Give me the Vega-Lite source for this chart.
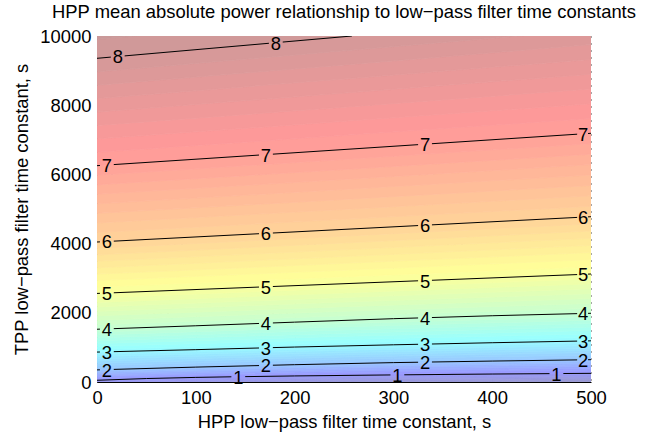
{
  "$schema": "https://vega.github.io/schema/vega-lite/v6.json",
  "autosize": {"type": "none"},
  "width": 494,
  "height": 346,
  "padding": {"left": 97, "top": 36, "right": 54, "bottom": 51},
  "background": "white",
  "title": {"text": "HPP mean absolute power relationship to low−pass filter time constants", "font": "Liberation Sans", "fontSize": 18.4, "fontWeight": "normal", "color": "black", "anchor": "middle", "offset": 6},
  "config": {
    "view": {"stroke": null},
    "font": "Liberation Sans",
    "axis": {
      "labelFont": "Liberation Sans", "labelFontSize": 18.4, "labelColor": "black",
      "titleFont": "Liberation Sans", "titleFontSize": 18.4, "titleFontWeight": "normal", "titleColor": "black",
      "domainColor": "black", "domainWidth": 1, "ticks": false,
      "grid": true, "gridColor": "#000000", "gridDash": [1, 6], "gridOpacity": 0.7, "gridWidth": 1,
      "labelFlush": false, "zindex": 1
    }
  },
  "datasets": {
    "bands": [
      {"v":0.1875,"x":0,"y":-195,"y2":-160},{"v":0.1875,"x":250,"y":-73,"y2":-35},{"v":0.1875,"x":500,"y":-13,"y2":25},
      {"v":0.3125,"x":0,"y":-160,"y2":-125},{"v":0.3125,"x":250,"y":-35,"y2":3},{"v":0.3125,"x":500,"y":25,"y2":63},
      {"v":0.4375,"x":0,"y":-125,"y2":-90},{"v":0.4375,"x":250,"y":3,"y2":40},{"v":0.4375,"x":500,"y":63,"y2":100},
      {"v":0.5625,"x":0,"y":-90,"y2":-55},{"v":0.5625,"x":250,"y":40,"y2":78},{"v":0.5625,"x":500,"y":100,"y2":138},
      {"v":0.6875,"x":0,"y":-55,"y2":-20},{"v":0.6875,"x":250,"y":78,"y2":115},{"v":0.6875,"x":500,"y":138,"y2":175},
      {"v":0.8125,"x":0,"y":-20,"y2":15},{"v":0.8125,"x":250,"y":115,"y2":153},{"v":0.8125,"x":500,"y":175,"y2":213},
      {"v":0.9375,"x":0,"y":15,"y2":50},{"v":0.9375,"x":250,"y":153,"y2":190},{"v":0.9375,"x":500,"y":213,"y2":250},
      {"v":1.0625,"x":0,"y":50,"y2":88},{"v":1.0625,"x":250,"y":190,"y2":233},{"v":1.0625,"x":500,"y":250,"y2":300},
      {"v":1.1875,"x":0,"y":88,"y2":125},{"v":1.1875,"x":250,"y":233,"y2":275},{"v":1.1875,"x":500,"y":300,"y2":349},
      {"v":1.3125,"x":0,"y":125,"y2":163},{"v":1.3125,"x":250,"y":275,"y2":318},{"v":1.3125,"x":500,"y":349,"y2":399},
      {"v":1.4375,"x":0,"y":163,"y2":200},{"v":1.4375,"x":250,"y":318,"y2":360},{"v":1.4375,"x":500,"y":399,"y2":448},
      {"v":1.5625,"x":0,"y":200,"y2":238},{"v":1.5625,"x":250,"y":360,"y2":403},{"v":1.5625,"x":500,"y":448,"y2":497},
      {"v":1.6875,"x":0,"y":238,"y2":275},{"v":1.6875,"x":250,"y":403,"y2":445},{"v":1.6875,"x":500,"y":497,"y2":546},
      {"v":1.8125,"x":0,"y":275,"y2":313},{"v":1.8125,"x":250,"y":445,"y2":488},{"v":1.8125,"x":500,"y":546,"y2":596},
      {"v":1.9375,"x":0,"y":313,"y2":350},{"v":1.9375,"x":250,"y":488,"y2":530},{"v":1.9375,"x":500,"y":596,"y2":645},
      {"v":2.0625,"x":0,"y":350,"y2":415},{"v":2.0625,"x":250,"y":530,"y2":594},{"v":2.0625,"x":500,"y":645,"y2":713},
      {"v":2.1875,"x":0,"y":415,"y2":479},{"v":2.1875,"x":250,"y":594,"y2":658},{"v":2.1875,"x":500,"y":713,"y2":781},
      {"v":2.3125,"x":0,"y":479,"y2":544},{"v":2.3125,"x":250,"y":658,"y2":722},{"v":2.3125,"x":500,"y":781,"y2":850},
      {"v":2.4375,"x":0,"y":544,"y2":608},{"v":2.4375,"x":250,"y":722,"y2":786},{"v":2.4375,"x":500,"y":850,"y2":918},
      {"v":2.5625,"x":0,"y":608,"y2":672},{"v":2.5625,"x":250,"y":786,"y2":851},{"v":2.5625,"x":500,"y":918,"y2":986},
      {"v":2.6875,"x":0,"y":672,"y2":736},{"v":2.6875,"x":250,"y":851,"y2":915},{"v":2.6875,"x":500,"y":986,"y2":1054},
      {"v":2.8125,"x":0,"y":736,"y2":801},{"v":2.8125,"x":250,"y":915,"y2":979},{"v":2.8125,"x":500,"y":1054,"y2":1122},
      {"v":2.9375,"x":0,"y":801,"y2":865},{"v":2.9375,"x":250,"y":979,"y2":1043},{"v":2.9375,"x":500,"y":1122,"y2":1190},
      {"v":3.0625,"x":0,"y":865,"y2":948},{"v":3.0625,"x":250,"y":1043,"y2":1135},{"v":3.0625,"x":500,"y":1190,"y2":1290},
      {"v":3.1875,"x":0,"y":948,"y2":1030},{"v":3.1875,"x":250,"y":1135,"y2":1227},{"v":3.1875,"x":500,"y":1290,"y2":1389},
      {"v":3.3125,"x":0,"y":1030,"y2":1113},{"v":3.3125,"x":250,"y":1227,"y2":1320},{"v":3.3125,"x":500,"y":1389,"y2":1489},
      {"v":3.4375,"x":0,"y":1113,"y2":1195},{"v":3.4375,"x":250,"y":1320,"y2":1412},{"v":3.4375,"x":500,"y":1489,"y2":1588},
      {"v":3.5625,"x":0,"y":1195,"y2":1278},{"v":3.5625,"x":250,"y":1412,"y2":1504},{"v":3.5625,"x":500,"y":1588,"y2":1688},
      {"v":3.6875,"x":0,"y":1278,"y2":1360},{"v":3.6875,"x":250,"y":1504,"y2":1596},{"v":3.6875,"x":500,"y":1688,"y2":1787},
      {"v":3.8125,"x":0,"y":1360,"y2":1443},{"v":3.8125,"x":250,"y":1596,"y2":1688},{"v":3.8125,"x":500,"y":1787,"y2":1887},
      {"v":3.9375,"x":0,"y":1443,"y2":1525},{"v":3.9375,"x":250,"y":1688,"y2":1780},{"v":3.9375,"x":500,"y":1887,"y2":1986},
      {"v":4.0625,"x":0,"y":1525,"y2":1655},{"v":4.0625,"x":250,"y":1780,"y2":1913},{"v":4.0625,"x":500,"y":1986,"y2":2128},
      {"v":4.1875,"x":0,"y":1655,"y2":1784},{"v":4.1875,"x":250,"y":1913,"y2":2045},{"v":4.1875,"x":500,"y":2128,"y2":2270},
      {"v":4.3125,"x":0,"y":1784,"y2":1914},{"v":4.3125,"x":250,"y":2045,"y2":2178},{"v":4.3125,"x":500,"y":2270,"y2":2412},
      {"v":4.4375,"x":0,"y":1914,"y2":2043},{"v":4.4375,"x":250,"y":2178,"y2":2310},{"v":4.4375,"x":500,"y":2412,"y2":2554},
      {"v":4.5625,"x":0,"y":2043,"y2":2172},{"v":4.5625,"x":250,"y":2310,"y2":2443},{"v":4.5625,"x":500,"y":2554,"y2":2696},
      {"v":4.6875,"x":0,"y":2172,"y2":2301},{"v":4.6875,"x":250,"y":2443,"y2":2575},{"v":4.6875,"x":500,"y":2696,"y2":2837},
      {"v":4.8125,"x":0,"y":2301,"y2":2431},{"v":4.8125,"x":250,"y":2575,"y2":2708},{"v":4.8125,"x":500,"y":2837,"y2":2979},
      {"v":4.9375,"x":0,"y":2431,"y2":2560},{"v":4.9375,"x":250,"y":2708,"y2":2840},{"v":4.9375,"x":500,"y":2979,"y2":3121},
      {"v":5.0625,"x":0,"y":2560,"y2":2746},{"v":5.0625,"x":250,"y":2840,"y2":3037},{"v":5.0625,"x":500,"y":3121,"y2":3328},
      {"v":5.1875,"x":0,"y":2746,"y2":2932},{"v":5.1875,"x":250,"y":3037,"y2":3233},{"v":5.1875,"x":500,"y":3328,"y2":3535},
      {"v":5.3125,"x":0,"y":2932,"y2":3118},{"v":5.3125,"x":250,"y":3233,"y2":3430},{"v":5.3125,"x":500,"y":3535,"y2":3742},
      {"v":5.4375,"x":0,"y":3118,"y2":3303},{"v":5.4375,"x":250,"y":3430,"y2":3626},{"v":5.4375,"x":500,"y":3742,"y2":3949},
      {"v":5.5625,"x":0,"y":3303,"y2":3489},{"v":5.5625,"x":250,"y":3626,"y2":3823},{"v":5.5625,"x":500,"y":3949,"y2":4156},
      {"v":5.6875,"x":0,"y":3489,"y2":3675},{"v":5.6875,"x":250,"y":3823,"y2":4019},{"v":5.6875,"x":500,"y":4156,"y2":4363},
      {"v":5.8125,"x":0,"y":3675,"y2":3861},{"v":5.8125,"x":250,"y":4019,"y2":4216},{"v":5.8125,"x":500,"y":4363,"y2":4570},
      {"v":5.9375,"x":0,"y":3861,"y2":4046},{"v":5.9375,"x":250,"y":4216,"y2":4412},{"v":5.9375,"x":500,"y":4570,"y2":4777},
      {"v":6.0625,"x":0,"y":4046,"y2":4322},{"v":6.0625,"x":250,"y":4412,"y2":4701},{"v":6.0625,"x":500,"y":4777,"y2":5079},
      {"v":6.1875,"x":0,"y":4322,"y2":4598},{"v":6.1875,"x":250,"y":4701,"y2":4989},{"v":6.1875,"x":500,"y":5079,"y2":5380},
      {"v":6.3125,"x":0,"y":4598,"y2":4874},{"v":6.3125,"x":250,"y":4989,"y2":5278},{"v":6.3125,"x":500,"y":5380,"y2":5682},
      {"v":6.4375,"x":0,"y":4874,"y2":5149},{"v":6.4375,"x":250,"y":5278,"y2":5566},{"v":6.4375,"x":500,"y":5682,"y2":5983},
      {"v":6.5625,"x":0,"y":5149,"y2":5425},{"v":6.5625,"x":250,"y":5566,"y2":5855},{"v":6.5625,"x":500,"y":5983,"y2":6284},
      {"v":6.6875,"x":0,"y":5425,"y2":5701},{"v":6.6875,"x":250,"y":5855,"y2":6143},{"v":6.6875,"x":500,"y":6284,"y2":6585},
      {"v":6.8125,"x":0,"y":5701,"y2":5977},{"v":6.8125,"x":250,"y":6143,"y2":6432},{"v":6.8125,"x":500,"y":6585,"y2":6887},
      {"v":6.9375,"x":0,"y":5977,"y2":6252},{"v":6.9375,"x":250,"y":6432,"y2":6720},{"v":6.9375,"x":500,"y":6887,"y2":7188},
      {"v":7.0625,"x":0,"y":6252,"y2":6640},{"v":7.0625,"x":250,"y":6720,"y2":7128},{"v":7.0625,"x":500,"y":7188,"y2":7615},
      {"v":7.1875,"x":0,"y":6640,"y2":7028},{"v":7.1875,"x":250,"y":7128,"y2":7535},{"v":7.1875,"x":500,"y":7615,"y2":8042},
      {"v":7.3125,"x":0,"y":7028,"y2":7416},{"v":7.3125,"x":250,"y":7535,"y2":7943},{"v":7.3125,"x":500,"y":8042,"y2":8470},
      {"v":7.4375,"x":0,"y":7416,"y2":7804},{"v":7.4375,"x":250,"y":7943,"y2":8350},{"v":7.4375,"x":500,"y":8470,"y2":8897},
      {"v":7.5625,"x":0,"y":7804,"y2":8192},{"v":7.5625,"x":250,"y":8350,"y2":8758},{"v":7.5625,"x":500,"y":8897,"y2":9324},
      {"v":7.6875,"x":0,"y":8192,"y2":8579},{"v":7.6875,"x":250,"y":8758,"y2":9165},{"v":7.6875,"x":500,"y":9324,"y2":9751},
      {"v":7.8125,"x":0,"y":8579,"y2":8967},{"v":7.8125,"x":250,"y":9165,"y2":9573},{"v":7.8125,"x":500,"y":9751,"y2":10178},
      {"v":7.9375,"x":0,"y":8967,"y2":9355},{"v":7.9375,"x":250,"y":9573,"y2":9980},{"v":7.9375,"x":500,"y":10178,"y2":10605},
      {"v":8.0625,"x":0,"y":9355,"y2":9905},{"v":8.0625,"x":250,"y":9980,"y2":10552},{"v":8.0625,"x":500,"y":10605,"y2":11198},
      {"v":8.1875,"x":0,"y":9905,"y2":10454},{"v":8.1875,"x":250,"y":10552,"y2":11123},{"v":8.1875,"x":500,"y":11198,"y2":11791}
    ],
    "lines": [
      {"s":"1a","x":0,"y":50},{"s":"1a","x":50,"y":100},{"s":"1a","x":100,"y":133},{"s":"1a","x":136,"y":150},
      {"s":"1b","x":150,"y":155},{"s":"1b","x":200,"y":175},{"s":"1b","x":297,"y":204},
      {"s":"1c","x":311,"y":208},{"s":"1c","x":400,"y":230},{"s":"1c","x":458,"y":242},
      {"s":"1d","x":472,"y":245},{"s":"1d","x":500,"y":250},
      {"s":"2a","x":0,"y":350},{"s":"2a","x":3,"y":352},
      {"s":"2b","x":17,"y":364},{"s":"2b","x":100,"y":430},{"s":"2b","x":164,"y":475},
      {"s":"2c","x":178,"y":485},{"s":"2c","x":200,"y":500},{"s":"2c","x":300,"y":560},{"s":"2c","x":325,"y":571},
      {"s":"2d","x":339,"y":578},{"s":"2d","x":400,"y":605},{"s":"2d","x":486,"y":639},
      {"s":"2e","x":497,"y":644},{"s":"2e","x":500,"y":645},
      {"s":"3a","x":0,"y":865},{"s":"3a","x":3,"y":867},
      {"s":"3b","x":17,"y":877},{"s":"3b","x":100,"y":935},{"s":"3b","x":164,"y":983},
      {"s":"3c","x":178,"y":994},{"s":"3c","x":200,"y":1010},{"s":"3c","x":300,"y":1075},{"s":"3c","x":325,"y":1090},
      {"s":"3d","x":339,"y":1098},{"s":"3d","x":400,"y":1135},{"s":"3d","x":486,"y":1182},
      {"s":"3e","x":497,"y":1188},{"s":"3e","x":500,"y":1190},
      {"s":"4a","x":0,"y":1525},{"s":"4a","x":3,"y":1528},
      {"s":"4b","x":17,"y":1542},{"s":"4b","x":100,"y":1625},{"s":"4b","x":164,"y":1692},
      {"s":"4c","x":178,"y":1707},{"s":"4c","x":200,"y":1730},{"s":"4c","x":300,"y":1830},{"s":"4c","x":325,"y":1851},
      {"s":"4d","x":339,"y":1863},{"s":"4d","x":400,"y":1915},{"s":"4d","x":486,"y":1976},
      {"s":"4e","x":497,"y":1984},{"s":"4e","x":500,"y":1986},
      {"s":"5a","x":0,"y":2560},{"s":"5a","x":3,"y":2563},
      {"s":"5b","x":17,"y":2579},{"s":"5b","x":164,"y":2744},
      {"s":"5c","x":178,"y":2760},{"s":"5c","x":325,"y":2925},
      {"s":"5d","x":339,"y":2940},{"s":"5d","x":486,"y":3105},
      {"s":"5e","x":497,"y":3118},{"s":"5e","x":500,"y":3121},
      {"s":"6a","x":0,"y":4046},{"s":"6a","x":3,"y":4050},
      {"s":"6b","x":17,"y":4071},{"s":"6b","x":164,"y":4286},
      {"s":"6c","x":178,"y":4306},{"s":"6c","x":325,"y":4521},
      {"s":"6d","x":339,"y":4542},{"s":"6d","x":486,"y":4757},
      {"s":"6e","x":497,"y":4773},{"s":"6e","x":500,"y":4777},
      {"s":"7a","x":0,"y":6252},{"s":"7a","x":3,"y":6258},
      {"s":"7b","x":17,"y":6284},{"s":"7b","x":164,"y":6559},
      {"s":"7c","x":178,"y":6585},{"s":"7c","x":325,"y":6860},
      {"s":"7d","x":339,"y":6887},{"s":"7d","x":486,"y":7162},
      {"s":"7e","x":497,"y":7182},{"s":"7e","x":500,"y":7188},
      {"s":"8a","x":0,"y":9355},{"s":"8a","x":14,"y":9390},
      {"s":"8b","x":28,"y":9425},{"s":"8b","x":174,"y":9790},
      {"s":"8c","x":188,"y":9825},{"s":"8c","x":258,"y":10000}
    ],
    "labels": [
      {"level":1,"x":143,"y":153},{"level":1,"x":304,"y":206},{"level":1,"x":465,"y":243},
      {"level":2,"x":10,"y":357},{"level":2,"x":171,"y":480},{"level":2,"x":332,"y":574},{"level":2,"x":492,"y":642},
      {"level":3,"x":10,"y":872},{"level":3,"x":171,"y":988},{"level":3,"x":332,"y":1094},{"level":3,"x":492,"y":1185},
      {"level":4,"x":10,"y":1535},{"level":4,"x":171,"y":1700},{"level":4,"x":332,"y":1857},{"level":4,"x":492,"y":1980},
      {"level":5,"x":10,"y":2571},{"level":5,"x":171,"y":2752},{"level":5,"x":332,"y":2933},{"level":5,"x":492,"y":3112},
      {"level":6,"x":10,"y":4061},{"level":6,"x":171,"y":4296},{"level":6,"x":332,"y":4531},{"level":6,"x":492,"y":4765},
      {"level":7,"x":10,"y":6271},{"level":7,"x":171,"y":6572},{"level":7,"x":332,"y":6873},{"level":7,"x":492,"y":7173},
      {"level":8,"x":21,"y":9408},{"level":8,"x":181,"y":9808}
    ]
  },
  "encoding": {
    "x": {"field": "x", "type": "quantitative", "scale": {"domain": [0, 500], "nice": false, "zero": false},
      "axis": {"values": [0, 100, 200, 300, 400, 500], "format": "d", "title": "HPP low−pass filter time constant, s", "labelPadding": 6, "titlePadding": 6}},
    "y": {"field": "y", "type": "quantitative", "scale": {"domain": [0, 10000], "nice": false, "zero": false},
      "axis": {"values": [0, 2000, 4000, 6000, 8000, 10000], "format": "d", "title": "TPP low−pass filter time constant, s", "labelPadding": 6, "titlePadding": 8}}
  },
  "layer": [
    {
      "data": {"name": "bands"},
      "mark": {"type": "area", "clip": true, "strokeWidth": 0.8, "orient": "vertical"},
      "encoding": {
        "y2": {"field": "y2"},
        "detail": {"field": "v", "type": "nominal"},
        "color": {"field": "v", "type": "quantitative", "legend": null,
          "scale": {"domain": [0.15, 1.15, 3.15, 5.15, 7.15, 8.15], "range": ["#9999cc", "#9999ff", "#99ffff", "#ffff99", "#ff9999", "#cc9999"], "interpolate": "rgb"}},
        "stroke": {"field": "v", "type": "quantitative", "legend": null,
          "scale": {"domain": [0.15, 1.15, 3.15, 5.15, 7.15, 8.15], "range": ["#9999cc", "#9999ff", "#99ffff", "#ffff99", "#ff9999", "#cc9999"], "interpolate": "rgb"}}
      }
    },
    {
      "data": {"name": "lines"},
      "mark": {"type": "line", "clip": true, "color": "black", "strokeWidth": 1},
      "encoding": {"detail": {"field": "s", "type": "nominal"}}
    },
    {
      "data": {"name": "labels"},
      "mark": {"type": "text", "font": "Liberation Sans", "fontSize": 18.4, "color": "black", "align": "center", "baseline": "middle", "dy": 1},
      "encoding": {"text": {"field": "level", "type": "nominal"}}
    }
  ]
}
